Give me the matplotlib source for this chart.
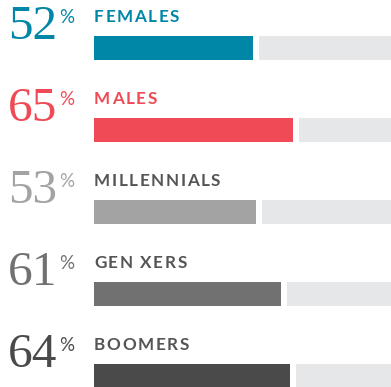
import matplotlib
matplotlib.use("Agg")
import matplotlib.pyplot as plt
from matplotlib.font_manager import FontProperties, findfont, get_font

groups = ["FEMALES", "MALES", "MILLENNIALS", "GEN XERS", "BOOMERS"]
shares = [52, 65, 53, 61, 64]
bar_colors = ["#0086a6", "#ef4a55", "#a3a3a3", "#717171", "#4a4a4a"]
label_colors = ["#0086a6", "#ef4a55", "#555555", "#555555", "#555555"]
track_color = "#e6e7e9"

W, H, DPI = 391, 387, 100
row_px = 82          # vertical distance between rows
first_px = 48        # centre of first bar from the top
bar_px = 24          # bar thickness
left_px = 94         # where the bars start
px_per_pct = 3.06
gap_pct = 2.0

fig = plt.figure(figsize=(W / DPI, H / DPI), dpi=DPI)
ax = fig.add_axes([left_px / W, 0, 1 - left_px / W, 1])
ax.set_xlim(0, (W - left_px) / px_per_pct)
ax.set_ylim((H - first_px) / row_px, -first_px / row_px)
ax.axis("off")

rows = list(range(len(groups)))
ax.barh(rows, shares, height=bar_px / row_px, color=bar_colors, left=0)
ax.barh(rows, [100 - s - gap_pct for s in shares], left=[s + gap_pct for s in shares],
        height=bar_px / row_px, color=track_color)

label_fp = FontProperties(family="Lato", weight="bold", size=12.3)
num_fp = FontProperties(family="Liberation Serif", size=35.5)
pct_fp = FontProperties(family="Lato", size=13.5)

# per-glyph advances so the caps can be spaced out
_ft = get_font(findfont(label_fp))
_ft.set_size(label_fp.get_size_in_points(), DPI)
_hint = plt.rcParams["text.hinting_factor"]


def spaced_label(text, row, color, tracking=1.6):
    x = 0.0
    for ch in text:
        ax.annotate(ch, xy=(0, row), xytext=(x, 26), textcoords="offset pixels",
                    fontproperties=label_fp, color=color, va="baseline", ha="left",
                    annotation_clip=False)
        x += _ft.load_char(ord(ch)).horiAdvance / 64 / _hint + tracking


for r, g, s, bc, lc in zip(rows, groups, shares, bar_colors, label_colors):
    spaced_label(g, r, lc)
    ax.annotate(str(s), xy=(0, r), xytext=(-37, 9), textcoords="offset pixels",
                fontproperties=num_fp, color=bc, ha="right", va="baseline",
                annotation_clip=False)
    ax.annotate("%", xy=(0, r), xytext=(-35, 25), textcoords="offset pixels",
                fontproperties=pct_fp, color=bc, ha="left", va="baseline",
                annotation_clip=False)

fig.savefig("out.png", dpi=DPI)
